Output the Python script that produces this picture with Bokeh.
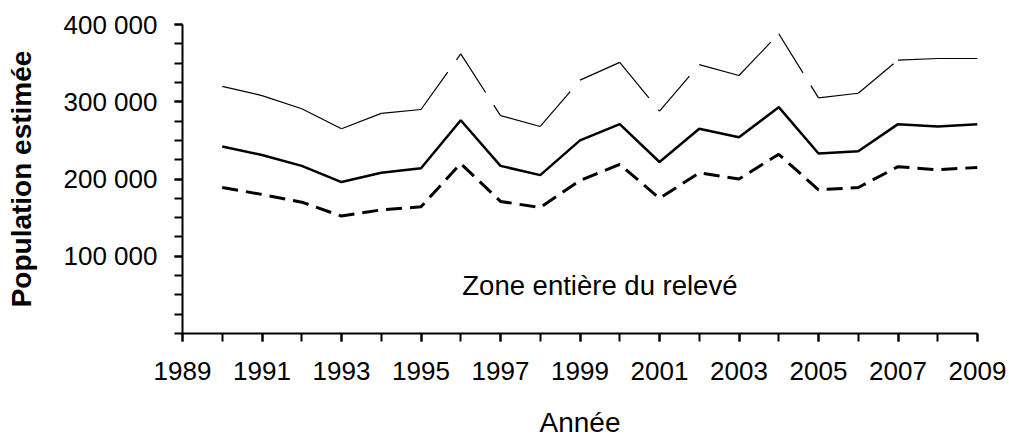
from bokeh.plotting import figure
from bokeh.models import Range1d, FixedTicker, Label
from bokeh.embed import file_html
from bokeh.resources import INLINE

years = list(range(1990, 2010))
upper = [320000, 308000, 291000, 265000, 285000, 290000, 362000, 282000, 268000, 328000,
         351000, 288000, 348000, 334000, 388000, 305000, 311000, 354000, 356000, 356000]
middle = [242000, 231000, 217000, 196000, 208000, 214000, 276000, 217000, 205000, 250000,
          271000, 222000, 265000, 254000, 293000, 233000, 236000, 271000, 268000, 271000]
lower = [189000, 180000, 170000, 152000, 160000, 164000, 220000, 171000, 163000, 198000,
         219000, 175000, 208000, 200000, 232000, 186000, 189000, 216000, 212000, 215000]

x_major = list(range(1989, 2010, 2))
x_minor = list(range(1989, 2010, 1))
x_labels = {y: str(y) for y in x_major}
y_major = [100000, 200000, 300000, 400000]
y_minor = list(range(0, 400001, 25000))
y_labels = {100000: "100 000", 200000: "200 000", 300000: "300 000", 400000: "400 000"}

x_title = "Année"
y_title = "Population estimée"
note = "Zone entière du relevé"

FONT = "Liberation Sans"

p = figure(width=1009, height=448,
           x_range=Range1d(1989, 2009), y_range=Range1d(0, 400000),
           output_backend="svg", toolbar_location=None,
           min_border_left=182, min_border_top=24, min_border_right=32, min_border_bottom=115)
p.outline_line_color = None
p.xgrid.visible = False
p.ygrid.visible = False
p.background_fill_color = "white"
p.border_fill_color = "white"

# upper: dash pattern restarts on each segment
seg_xs = [[years[i], years[i + 1]] for i in range(len(years) - 1)]
seg_ys = [[upper[i], upper[i + 1]] for i in range(len(years) - 1)]
p.multi_line(xs=seg_xs, ys=seg_ys, line_color="black", line_width=1.2, line_dash="46 15")
p.line(years, middle, line_color="black", line_width=2.5)
p.line(years, lower, line_color="black", line_width=3, line_dash="16 8")

for ax in (p.xaxis[0], p.yaxis[0]):
    ax.axis_line_color = "black"
    ax.axis_line_width = 2
    ax.major_tick_line_color = "black"
    ax.minor_tick_line_color = "black"
    ax.major_tick_line_width = 2
    ax.minor_tick_line_width = 2
    ax.major_tick_in = 0
    ax.minor_tick_in = 0
    ax.major_tick_out = 8
    ax.minor_tick_out = 8
    ax.major_label_text_font = FONT
    ax.major_label_text_font_size = "26px"
    ax.major_label_text_color = "black"
    ax.axis_label_text_font = FONT
    ax.axis_label_text_color = "black"

xa = p.xaxis[0]
xa.ticker = FixedTicker(ticks=x_major, minor_ticks=x_minor)
xa.major_label_overrides = x_labels
xa.major_label_standoff = 20
xa.axis_label = x_title
xa.axis_label_text_font_size = "28px"
xa.axis_label_text_font_style = "normal"
xa.axis_label_standoff = 24

ya = p.yaxis[0]
ya.ticker = FixedTicker(ticks=y_major, minor_ticks=y_minor)
ya.major_label_overrides = y_labels
ya.major_label_standoff = 17
ya.axis_label = y_title
ya.axis_label_text_font_size = "28px"
ya.axis_label_text_font_style = "bold"
ya.axis_label_standoff = 24

p.add_layout(Label(x=1999.5, y=62500, text=note, text_align="center",
                   text_baseline="alphabetic", text_font=FONT,
                   text_font_size="27.5px", text_color="black"))

open("out.html", "w").write(file_html(p, INLINE))
